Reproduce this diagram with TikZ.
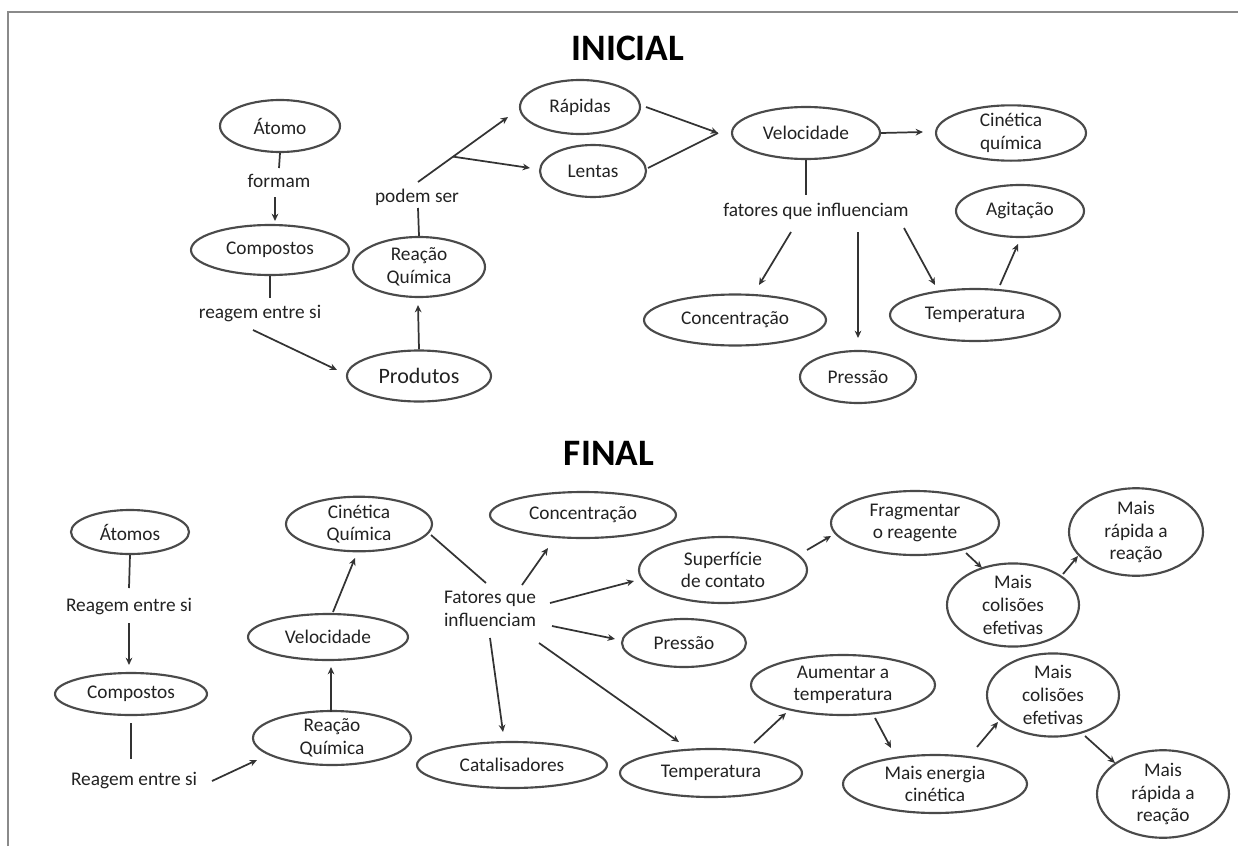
\documentclass[tikz,border=0pt]{standalone}
\usepackage{fontspec}
\setmainfont{Carlito}
\usetikzlibrary{shapes.geometric,arrows.meta,calc}
\definecolor{elc}{HTML}{4A4A4A}
\definecolor{lnc}{HTML}{333333}
\definecolor{txc}{HTML}{222222}
\definecolor{frc}{HTML}{8A8A8A}
\newcommand\mapfont{\fontsize{14.5}{17}\selectfont}
\newcommand\bigmapfont{\fontsize{16.5}{19}\selectfont}
\newcommand\titlefont{\fontsize{28}{32}\selectfont\bfseries}
\tikzset{
 el/.style 2 args={ellipse, draw=elc, line width=1.6pt, minimum width=#1*0.75pt, minimum height=#2*0.75pt, inner sep=0pt, align=center, font=\mapfont, text=txc},
 lbl/.style={inner sep=0pt, align=center, font=\mapfont, text=txc},
 ttl/.style={inner sep=0pt, font=\titlefont, text=black},
 ln/.style={draw=lnc, line width=1.3pt},
 ar/.style={ln, -{Stealth[length=5.5pt,width=5pt]}},
}
\begin{document}
\begin{tikzpicture}[x=0.75pt,y=-0.75pt]
\useasboundingbox (0,0) rectangle (1238,846);
\draw[frc, line width=1.5pt] (8,846) -- (8,12) -- (1238,12);

% ---------- INICIAL ----------
\node[ttl] (t1) at (628,48) {INICIAL};
\node[el={120}{52}] (atomo) at (280,126) {Átomo};
\node[lbl] (formam) at (279,181) {formam};
\node[el={158}{50}] (comp1) at (270,250) {Compostos};
\node[lbl] (reag1) at (260,314) {reagem entre si};
\node[el={144}{51}, font=\bigmapfont] (prod) at (419,376) {Produtos};
\node[el={132}{60}] (reac1) at (419,267) {Reação\\Química};
\node[lbl] (podem) at (417,197) {podem ser};
\node[el={120}{54}] (rap) at (580,107) {Rápidas};
\node[el={106}{52}] (lent) at (593,171) {Lentas};
\node[el={148}{52}] (vel1) at (806,133) {Velocidade};
\node[el={150}{52}] (cin1) at (1011,133) {Cinética\\química};
\node[lbl] (fat1) at (816,211) {fatores que influenciam};
\node[el={182}{51}] (conc1) at (735,320) {Concentração};
\node[el={116}{52}] (press1) at (858,377) {Pressão};
\node[el={170}{52}] (temp1) at (975,315) {Temperatura};
\node[el={128}{52}] (agit) at (1020,211) {Agitação};

\draw[ln] (atomo.south) -- ($(formam)+(0,-13)$);
\draw[ar] ($(formam)+(-4,16)$) -- ($(comp1)+(5,-29)$);
\draw[ln] (comp1.south) -- ($(reag1)+(10,-16)$);
\draw[ar] ($(reag1)+(-7,16)$) -- ($(prod)+(-82,-6)$);
\draw[ar] (prod.north) -- ($(reac1)+(-1,38)$);
\draw[ln] (reac1.north) -- ($(podem)+(1,11)$);
\coordinate (g1) at ($(podem)+(1,-15)$);
\coordinate (g2) at ($(rap)+(-72,10)$);
\draw[ar] (g1) -- (g2);
\coordinate (br) at ($(g1)!0.39!(g2)$);
\draw[ar] (br) -- ($(lent)+(-63,-3)$);
\coordinate (vin) at ($(vel1)+(-88,0)$);
\draw[ar] ($(rap)+(66,0)$) -- (vin);
\draw[ln] ($(lent)+(55,-3)$) -- (vin);
\draw[ar] (vel1.east) -- ($(cin1)+(-88,-1)$);
\draw[ln] (vel1.south) -- ($(fat1)+(-10,-16)$);
\draw[ar] ($(fat1)+(-25,21)$) -- ($(conc1)+(24,-35)$);
\draw[ar] ($(fat1)+(42,21)$) -- ($(press1)+(0,-39)$);
\draw[ar] ($(fat1)+(88,17)$) -- ($(temp1)+(-40,-30)$);
\draw[ar] ($(temp1)+(25,-30)$) -- ($(agit)+(-2,33)$);

% ---------- FINAL ----------
\node[ttl] (t2) at (609,453) {FINAL};
\node[el={118}{44}] (atomos) at (130,532) {Átomos};
\node[lbl] (reag2a) at (129,607) {Reagem entre si};
\node[el={152}{42}] (comp2) at (131,694) {Compostos};
\node[lbl] (reag2b) at (134,780) {Reagem entre si};
\node[el={158}{54}] (reac2) at (332,738) {Reação\\Química};
\node[el={160}{46}] (vel2) at (328,637) {Velocidade};
\node[el={146}{52}] (cin2) at (359,524) {Cinética\\Química};
\node[lbl, align=left] (fat2) at (490,609) {Fatores que\\influenciam};
\node[el={186}{46}] (conc2) at (583,515) {Concentração};
\node[el={168}{66}] (sup) at (723,570) {Superfície\\de contato};
\node[el={124}{48}] (press2) at (684,643) {Pressão};
\node[el={190}{46}] (catal) at (512,765) {Catalisadores};
\node[el={182}{48}] (temp2) at (711,773) {Temperatura};
\node[el={168}{64}] (frag) at (915,523) {Fragmentar\\o reagente};
\node[el={132}{80}] (col1) at (1013,605) {Mais\\colisões\\efetivas};
\node[el={134}{80}] (rap1) at (1136,532) {Mais\\rápida a\\reação};
\node[el={184}{60}] (aum) at (843,685) {Aumentar a\\temperatura};
\node[el={184}{58}] (ener) at (935,784) {Mais energia\\cinética};
\node[el={132}{80}] (col2) at (1053,695) {Mais\\colisões\\efetivas};
\node[el={132}{82}] (rap2) at (1163,794) {Mais\\rápida a\\reação};

\draw[ln] (atomos.south) -- ($(reag2a)+(0,-19)$);
\draw[ar] ($(reag2a)+(0,16)$) -- ($(comp2)+(-2,-29)$);
\draw[ln] ($(comp2)+(0,29)$) -- ($(reag2b)+(-3,-21)$);
\draw[ar] ($(reag2b)+(78,1)$) -- ($(reac2)+(-75,22)$);
\draw[ar] ($(reac2)+(-1,-26)$) -- ($(vel2)+(3,30)$);
\draw[ar] ($(vel2)+(5,-25)$) -- ($(cin2)+(-4,34)$);
\draw[ln] ($(cin2)+(72,11)$) -- ($(fat2)+(-4,-26)$);
\draw[ar] ($(fat2)+(32,-24)$) -- ($(conc2)+(-35,33)$);
\draw[ar] ($(fat2)+(60,-6)$) -- ($(sup)+(-89,11)$);
\draw[ar] ($(fat2)+(62,17)$) -- ($(press2)+(-69,-4)$);
\draw[ar] ($(fat2)+(0,29)$) -- ($(catal)+(-9,-33)$);
\draw[ar] ($(fat2)+(49,34)$) -- ($(temp2)+(-32,-31)$);
\draw[ar] ($(sup)+(84,-20)$) -- ($(frag)+(-84,13)$);
\draw[ar] ($(frag)+(51,30)$) -- ($(col1)+(-31,-37)$);
\draw[ar] ($(col1)+(50,-31)$) -- ($(rap1)+(-58,24)$);
\draw[ar] ($(temp2)+(43,-30)$) -- ($(aum)+(-57,28)$);
\draw[ar] ($(aum)+(32,33)$) -- ($(ener)+(-44,-36)$);
\draw[ar] ($(ener)+(42,-37)$) -- ($(col2)+(-55,27)$);
\draw[ar] ($(col2)+(32,41)$) -- ($(rap2)+(-48,-31)$);
\end{tikzpicture}
\end{document}
